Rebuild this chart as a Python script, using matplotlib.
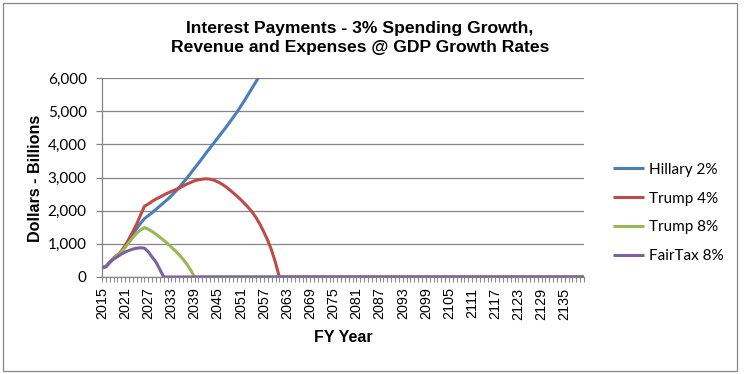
import matplotlib
matplotlib.use("Agg")
import matplotlib.pyplot as plt
from matplotlib.patches import Rectangle
import numpy as np

# ---------------- data ----------------
years = list(range(2015, 2141))
tick_years = list(range(2015, 2141, 6))[:21]   # 2015 ... 2135

series_names = ["Hillary 2%", "Trump 4%", "Trump 8%", "FairTax 8%"]

# Hillary 2% (leaves the chart above 6,000 after ~2055)
hillary = [280, 310, 440, 570, 660,
           760, 920, 1100, 1280, 1460, 1620, 1760, 1850, 1940, 2040,
           2140, 2240, 2340, 2450, 2570, 2700, 2840, 2980, 3130, 3280,
           3430, 3580, 3740, 3890, 4040, 4190, 4340, 4490, 4650, 4810,
           4970, 5150, 5330, 5520, 5710, 5900, 6100]

trump4 = [280, 310, 440, 570, 660,
          770, 950, 1150, 1370, 1600, 1870, 2130, 2200, 2280, 2350,
          2410, 2470, 2530, 2580, 2630, 2680, 2740, 2800, 2850, 2900,
          2930, 2950, 2960, 2950, 2920, 2870, 2810, 2730, 2640, 2540,
          2440, 2330, 2210, 2090, 1950, 1780, 1580, 1350, 1100, 800,
          430, 0,
          0, 0, 0, 0, 0, 0, 0, 0, 0, 0, 0, 0, 0, 0, 0, 0, 0, 0, 0, 0,
          0, 0, 0, 0, 0, 0, 0, 0, 0, 0, 0, 0, 0, 0, 0, 0, 0, 0, 0, 0,
          0, 0, 0, 0, 0, 0, 0, 0, 0, 0, 0, 0, 0, 0, 0, 0, 0, 0, 0, 0,
          0, 0, 0, 0, 0, 0, 0, 0, 0, 0, 0, 0, 0, 0, 0, 0, 0, 0, 0]

trump8 = [280, 310, 440, 570, 650,
          750, 890, 1040, 1190, 1320, 1420, 1490, 1440, 1370, 1290,
          1200, 1110, 1010, 900, 790, 670, 540, 390, 210, 0,
          0, 0, 0, 0, 0, 0, 0, 0, 0, 0, 0, 0, 0, 0, 0, 0, 0, 0, 0, 0,
          0, 0, 0, 0, 0, 0, 0, 0, 0, 0, 0, 0, 0, 0, 0, 0, 0, 0, 0, 0,
          0, 0, 0, 0, 0, 0, 0, 0, 0, 0, 0, 0, 0, 0, 0, 0, 0, 0, 0, 0,
          0, 0, 0, 0, 0, 0, 0, 0, 0, 0, 0, 0, 0, 0, 0, 0, 0, 0, 0, 0,
          0, 0, 0, 0, 0, 0, 0, 0, 0, 0, 0, 0, 0, 0, 0, 0, 0, 0, 0, 0,
          0]

fairtax = [280, 310, 440, 540, 610,
           690, 750, 800, 840, 870, 880, 870, 760, 600, 450,
           230, 0,
           0, 0, 0, 0, 0, 0, 0, 0, 0, 0, 0, 0, 0, 0, 0, 0, 0, 0, 0, 0,
           0, 0, 0, 0, 0, 0, 0, 0, 0, 0, 0, 0, 0, 0, 0, 0, 0, 0, 0, 0,
           0, 0, 0, 0, 0, 0, 0, 0, 0, 0, 0, 0, 0, 0, 0, 0, 0, 0, 0, 0,
           0, 0, 0, 0, 0, 0, 0, 0, 0, 0, 0, 0, 0, 0, 0, 0, 0, 0, 0, 0,
           0, 0, 0, 0, 0, 0, 0, 0, 0, 0, 0, 0, 0, 0, 0, 0, 0, 0, 0, 0,
           0, 0, 0, 0, 0, 0, 0, 0, 0]

y_ticks = [0, 1000, 2000, 3000, 4000, 5000, 6000]

colors = ["#4A7EBB", "#BE4B48", "#98B954", "#7D60A0"]

# ---------------- figure ----------------
W, H = 745, 374
fig = plt.figure(figsize=(W / 100, H / 100), dpi=100)

def fx(px):
    return px / W

def fy(py):
    return 1 - py / H

ax_l, ax_r, ax_t, ax_b = 102, 584, 78, 277
ax = fig.add_axes([fx(ax_l), fy(ax_b), fx(ax_r - ax_l), (ax_b - ax_t) / H])

grid_c = "#868686"
lw = 2.2
all_series = [hillary, trump4, trump8, fairtax]
for name, vals, c in zip(series_names, all_series, colors):
    ax.plot(years[:len(vals)], vals, color=c, lw=lw, label=name,
            solid_joinstyle="round", solid_capstyle="butt", zorder=3)

ax.set_xlim(2015, 2140)
ax.set_ylim(0, 6000)
ax.set_yticks(y_ticks)
ax.set_yticklabels([f"{v:,}" for v in y_ticks], family="Lato", fontsize=11)
ax.yaxis.grid(True, color=grid_c, lw=0.9)
ax.set_axisbelow(True)

ax.set_xticks(years)
ax.set_xticklabels([str(y) if y in tick_years else "" for y in years],
                   rotation=90, family="Liberation Sans", fontsize=10.4)

for s in ["top", "right"]:
    ax.spines[s].set_visible(False)
for s in ["left", "bottom"]:
    ax.spines[s].set_color(grid_c)
    ax.spines[s].set_linewidth(0.9)

ax.tick_params(axis="y", direction="out", length=4, width=0.9, color=grid_c, pad=7)
ax.tick_params(axis="x", direction="out", length=3.5, width=0.7, color=grid_c, pad=4)

# titles / labels
fig.text(fx(360), fy(38), "Interest Payments - 3% Spending Growth,\nRevenue and Expenses @ GDP Growth Rates",
         ha="center", va="center", family="Liberation Sans", weight="bold",
         fontsize=12.6, linespacing=1.32)
fig.text(fx(36), fy(178), "Dollars - Billions", rotation=90, ha="center", va="center",
         family="Liberation Sans", weight="bold", fontsize=11.6)
fig.text(fx(343), fy(337), "FY Year", ha="center", va="center",
         family="Liberation Sans", weight="bold", fontsize=11.6)

# legend
leg = ax.legend(loc="center left", bbox_to_anchor=(fx(613), fy(213)),
                bbox_transform=fig.transFigure, frameon=False,
                prop={"family": "Lato", "size": 11}, handlelength=2.0,
                handletextpad=0.35, labelspacing=0.98, borderpad=0, borderaxespad=0)
for line in leg.get_lines():
    line.set_linewidth(lw)

# outer border
fig.patches.append(Rectangle((fx(3), fy(371)), fx(734), (368) / H, transform=fig.transFigure,
                             fill=False, edgecolor="#888888", lw=0.9))

fig.savefig("out.png", dpi=100)
